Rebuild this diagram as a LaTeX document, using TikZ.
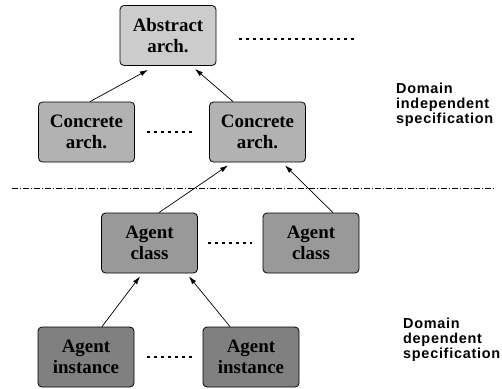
\documentclass[tikz,border=0pt]{standalone}
\usepackage{fontspec}
\setmainfont{Liberation Serif}
\newfontfamily\sidefont{Liberation Sans}[LetterSpace=5]
\usetikzlibrary{arrows.meta,calc}
\begin{document}
\begin{tikzpicture}[x=1bp,y=-1bp,
  box/.style={draw,line width=0.8bp,rounded corners=4bp,minimum width=96bp,minimum height=60bp,
    inner sep=0pt,align=center,font=\fontsize{19}{20.5}\selectfont\bfseries},
  absbox/.style={box,fill=black!20},
  conbox/.style={box,fill=black!30},
  clsbox/.style={box,fill=black!40},
  insbox/.style={box,fill=black!50},
  arr/.style={line width=0.7bp,-{Latex[length=8bp,width=5bp]}},
  dots/.style={line width=1.3bp,dash pattern=on 3bp off 4bp},
  side/.style={anchor=base west,inner sep=0pt,align=left,font=\sidefont\fontsize{14.5}{15}\selectfont\bfseries}]
\useasboundingbox (0,0) rectangle (502,388);
% nodes
\node[absbox] (abs) at (168,35.5) {Abstract\\arch.};
\node[conbox] (con1) at (86.5,132) {Concrete\\arch.};
\node[conbox] (con2) at (257.5,132) {Concrete\\arch.};
\node[clsbox] (cls1) at (149.5,243) {Agent\\class};
\node[clsbox] (cls2) at (311,243) {Agent\\class};
\node[insbox] (ins1) at (86,357) {Agent\\instance};
\node[insbox] (ins2) at (251,357) {Agent\\instance};
% side texts
\node[side] (ind) at (396,123) {Domain\\independent\\specification};
\node[side] (dep) at (403,358) {Domain\\dependent\\specification};
% dotted "more" lines
\coordinate (d1a) at (239,39); \coordinate (d1b) at (357,39);
\draw[dots] (d1a) -- (d1b);
\draw[dots] ([xshift=12bp]con1.east) -- ([xshift=-17bp]con2.west);
\draw[dots] ([xshift=10bp]cls1.east) -- ([xshift=-11bp]cls2.west);
\draw[dots] ([xshift=13bp]ins1.east) -- ([xshift=-11bp]ins2.west);
% separator
\coordinate (sepa) at (12,188); \coordinate (sepb) at (495,188);
\draw[line width=0.8bp,dash pattern=on 6bp off 2bp on 1bp off 2bp] (sepa) -- (sepb);
% arrows
\draw[arr] ([xshift=3.5bp]con1.north) -- ([xshift=-20bp,yshift=-4bp]abs.south);
\draw[arr] ([xshift=-24.5bp]con2.north) -- ([xshift=27bp,yshift=-3bp]abs.south);
\draw[arr] ([xshift=9.5bp]cls1.north) -- ([xshift=-29.5bp,yshift=-3bp]con2.south);
\draw[arr] ([xshift=22bp]cls2.north) -- ([xshift=27.5bp,yshift=-3bp]con2.south);
\draw[arr] ([xshift=16bp]ins1.north) -- ([xshift=-9.5bp,yshift=-3bp]cls1.south);
\draw[arr] ([xshift=-21bp]ins2.north) -- ([xshift=39.5bp,yshift=-3bp]cls1.south);
\end{tikzpicture}
\end{document}
